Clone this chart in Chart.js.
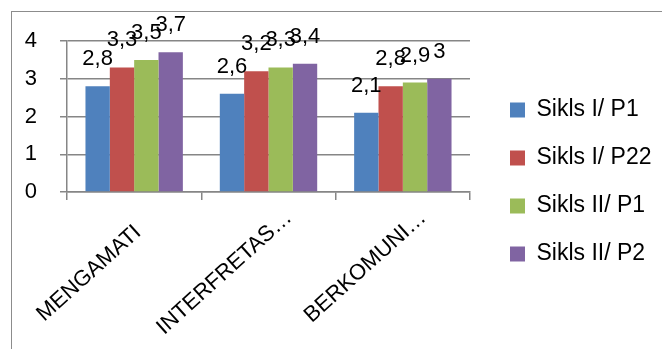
<!DOCTYPE html>
<html>
<head>
<meta charset="utf-8">
<script src="https://cdn.jsdelivr.net/npm/chart.js@4"></script>
<style>
  html, body { margin: 0; padding: 0; background: #fff; }
  #wrap { position: relative; width: 662px; height: 349px; overflow: hidden; }
  #frame {
    position: absolute; left: 11px; top: 11px; width: 700px; height: 400px;
    border: 1px solid #8c8c8c; pointer-events: none;
  }
</style>
</head>
<body>
<div id="wrap">
  <canvas id="myCanvas" width="662" height="349"></canvas>
  <div id="frame"></div>
</div>
<script>
const categories = ["MENGAMATI", "INTERFRETAS…", "BERKOMUNI…"];
const seriesNames = ["Sikls I/ P1", "Sikls I/ P22", "Sikls II/ P1", "Sikls II/ P2"];
const siklsIP1 = [2.8, 2.6, 2.1];
const siklsIP22 = [3.3, 3.2, 2.8];
const siklsIIP1 = [3.5, 3.3, 2.9];
const siklsIIP2 = [3.7, 3.4, 3];
const yTicks = [0, 1, 2, 3, 4];

const colors = ["#4f81bd", "#c0504d", "#9bbb59", "#8064a2"];
const gridColor = "#868686";
const fontFamily = "'Liberation Sans', Arial, sans-serif";

Chart.defaults.font.family = fontFamily;
Chart.defaults.font.size = 22;
Chart.defaults.color = "#000";

// value labels above the bars, with decimal comma
const valueLabels = {
  id: 'valueLabels',
  afterDatasetsDraw(chart) {
    const ctx = chart.ctx;
    ctx.save();
    ctx.font = "22px " + fontFamily;
    ctx.fillStyle = "#000";
    ctx.textAlign = "center";
    ctx.textBaseline = "alphabetic";
    chart.data.datasets.forEach((ds, i) => {
      chart.getDatasetMeta(i).data.forEach((bar, j) => {
        ctx.fillText(String(ds.data[j]).replace('.', ','), bar.x, bar.y - 21);
      });
    });
    ctx.restore();
  }
};

// slanted category names, anchored like the original (ellipsis hangs past the tick)
const slantedLabels = {
  id: 'slantedLabels',
  afterDraw(chart) {
    const sc = chart.scales.x;
    const ctx = chart.ctx;
    ctx.save();
    ctx.font = "22px " + fontFamily;
    ctx.fillStyle = "#000";
    ctx.textAlign = "right";
    ctx.textBaseline = "alphabetic";
    chart.data.labels.forEach((lab, i) => {
      const tail = lab.endsWith('…') ? ctx.measureText('…').width : 0;
      ctx.save();
      ctx.translate(sc.getPixelForTick(i) + 8, sc.top + 42);
      ctx.rotate(-42 * Math.PI / 180);
      ctx.fillText(lab, tail, 0);
      ctx.restore();
    });
    ctx.restore();
  }
};

// keep the legend where the original sits
const legendPlace = {
  id: 'legendPlace',
  beforeLayout(chart) {
    const lg = chart.legend;
    if (lg && !lg._fixed) {
      const fit = lg.fit;
      lg.fit = function () { fit.call(this); this.width = 192; };
      lg._fixed = true;
    }
  },
  afterLayout(chart) {
    chart.legend.left += 15;
    chart.legend.right += 15;
  }
};

const datasets = [siklsIP1, siklsIP22, siklsIIP1, siklsIIP2].map((d, i) => ({
  label: seriesNames[i],
  data: d,
  backgroundColor: colors[i],
  borderWidth: 0,
  barPercentage: 1,
  categoryPercentage: 0.725
}));

new Chart(document.getElementById('myCanvas').getContext('2d'), {
  type: 'bar',
  data: { labels: categories, datasets: datasets },
  plugins: [valueLabels, slantedLabels, legendPlace],
  options: {
    responsive: false,
    animation: false,
    layout: { padding: { top: 41, bottom: 26, left: 0, right: 0 } },
    plugins: {
      legend: {
        position: 'right',
        labels: { boxWidth: 15, boxHeight: 15, padding: 25, font: { size: 23 } }
      },
      tooltip: { enabled: false }
    },
    scales: {
      x: {
        afterFit(scale) { scale.height = 131; },
        grid: { offset: true, drawOnChartArea: false, color: gridColor, lineWidth: 1.5, tickLength: 8 },
        border: { color: gridColor, width: 1.5 },
        ticks: { display: false }
      },
      y: {
        min: 0,
        max: 4,
        afterFit(scale) { scale.width = 67; },
        afterBuildTicks(scale) { scale.ticks = yTicks.map(v => ({ value: v })); },
        grid: { color: gridColor, lineWidth: 1.5, tickLength: 7 },
        border: { color: gridColor, width: 1.5 },
        ticks: { padding: 23 }
      }
    }
  }
});
</script>
</body>
</html>
